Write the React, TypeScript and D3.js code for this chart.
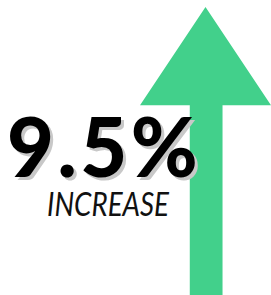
import { useRef, useEffect } from 'react';
import * as d3 from 'd3';

const W = 271;
const H = 295;

// the single metric shown
const values = [9.5];
const labels = ['INCREASE'];
const direction = ['up'];

const GREEN = '#42d08b';

export default function App() {
  const svgRef = useRef<SVGSVGElement | null>(null);

  useEffect(() => {
    const svg = d3.select(svgRef.current);
    svg.selectAll('*').remove();

    // arrow in a unit frame, mapped to the right half of the picture
    const x = d3.scaleLinear().domain([0, 1]).range([140, 271]);
    const y = d3.scaleLinear().domain([0, 1]).range([7, 296]);
    const headY = 0.34;
    const shaft = [0.38, 0.63];
    const arrow: [number, number][] = [
      [0.5, 0],
      [1, headY],
      [shaft[1], headY],
      [shaft[1], 1],
      [shaft[0], 1],
      [shaft[0], headY],
      [0, headY],
    ];
    const line = d3
      .line<[number, number]>()
      .x((d) => x(d[0]))
      .y((d) => y(direction[0] === 'up' ? d[1] : 1 - d[1]))
      .curve(d3.curveLinearClosed);

    svg.append('path').attr('d', line(arrow)).attr('fill', GREEN);

    const fmt = (v: number) => `${d3.format('.1f')(v)}%`;

    // shadow, then main number
    const big = (dx: number, dy: number, fill: string) =>
      svg
        .append('text')
        .attr('x', 7 + dx)
        .attr('y', 177 + dy)
        .attr('font-family', 'Lato')
        .attr('font-weight', 900)
        .attr('font-size', 81)
        .attr('letter-spacing', 3.5)
        .attr('fill', fill)
        .text(fmt(values[0]));
    big(3, 3, '#c8c8c8');
    big(0, 0, '#000');

    svg
      .append('text')
      .attr('x', 47)
      .attr('y', 216)
      .attr('font-family', 'Lato')
      .attr('font-style', 'italic')
      .attr('font-weight', 400)
      .attr('font-size', 33)
      .attr('textLength', 122)
      .attr('lengthAdjust', 'spacingAndGlyphs')
      .attr('fill', '#111')
      .text(labels[0]);
  }, []);

  return (
    <svg
      ref={svgRef}
      width={W}
      height={H}
      style={{ position: 'absolute', left: 0, top: 0, display: 'block' }}
    />
  );
}
